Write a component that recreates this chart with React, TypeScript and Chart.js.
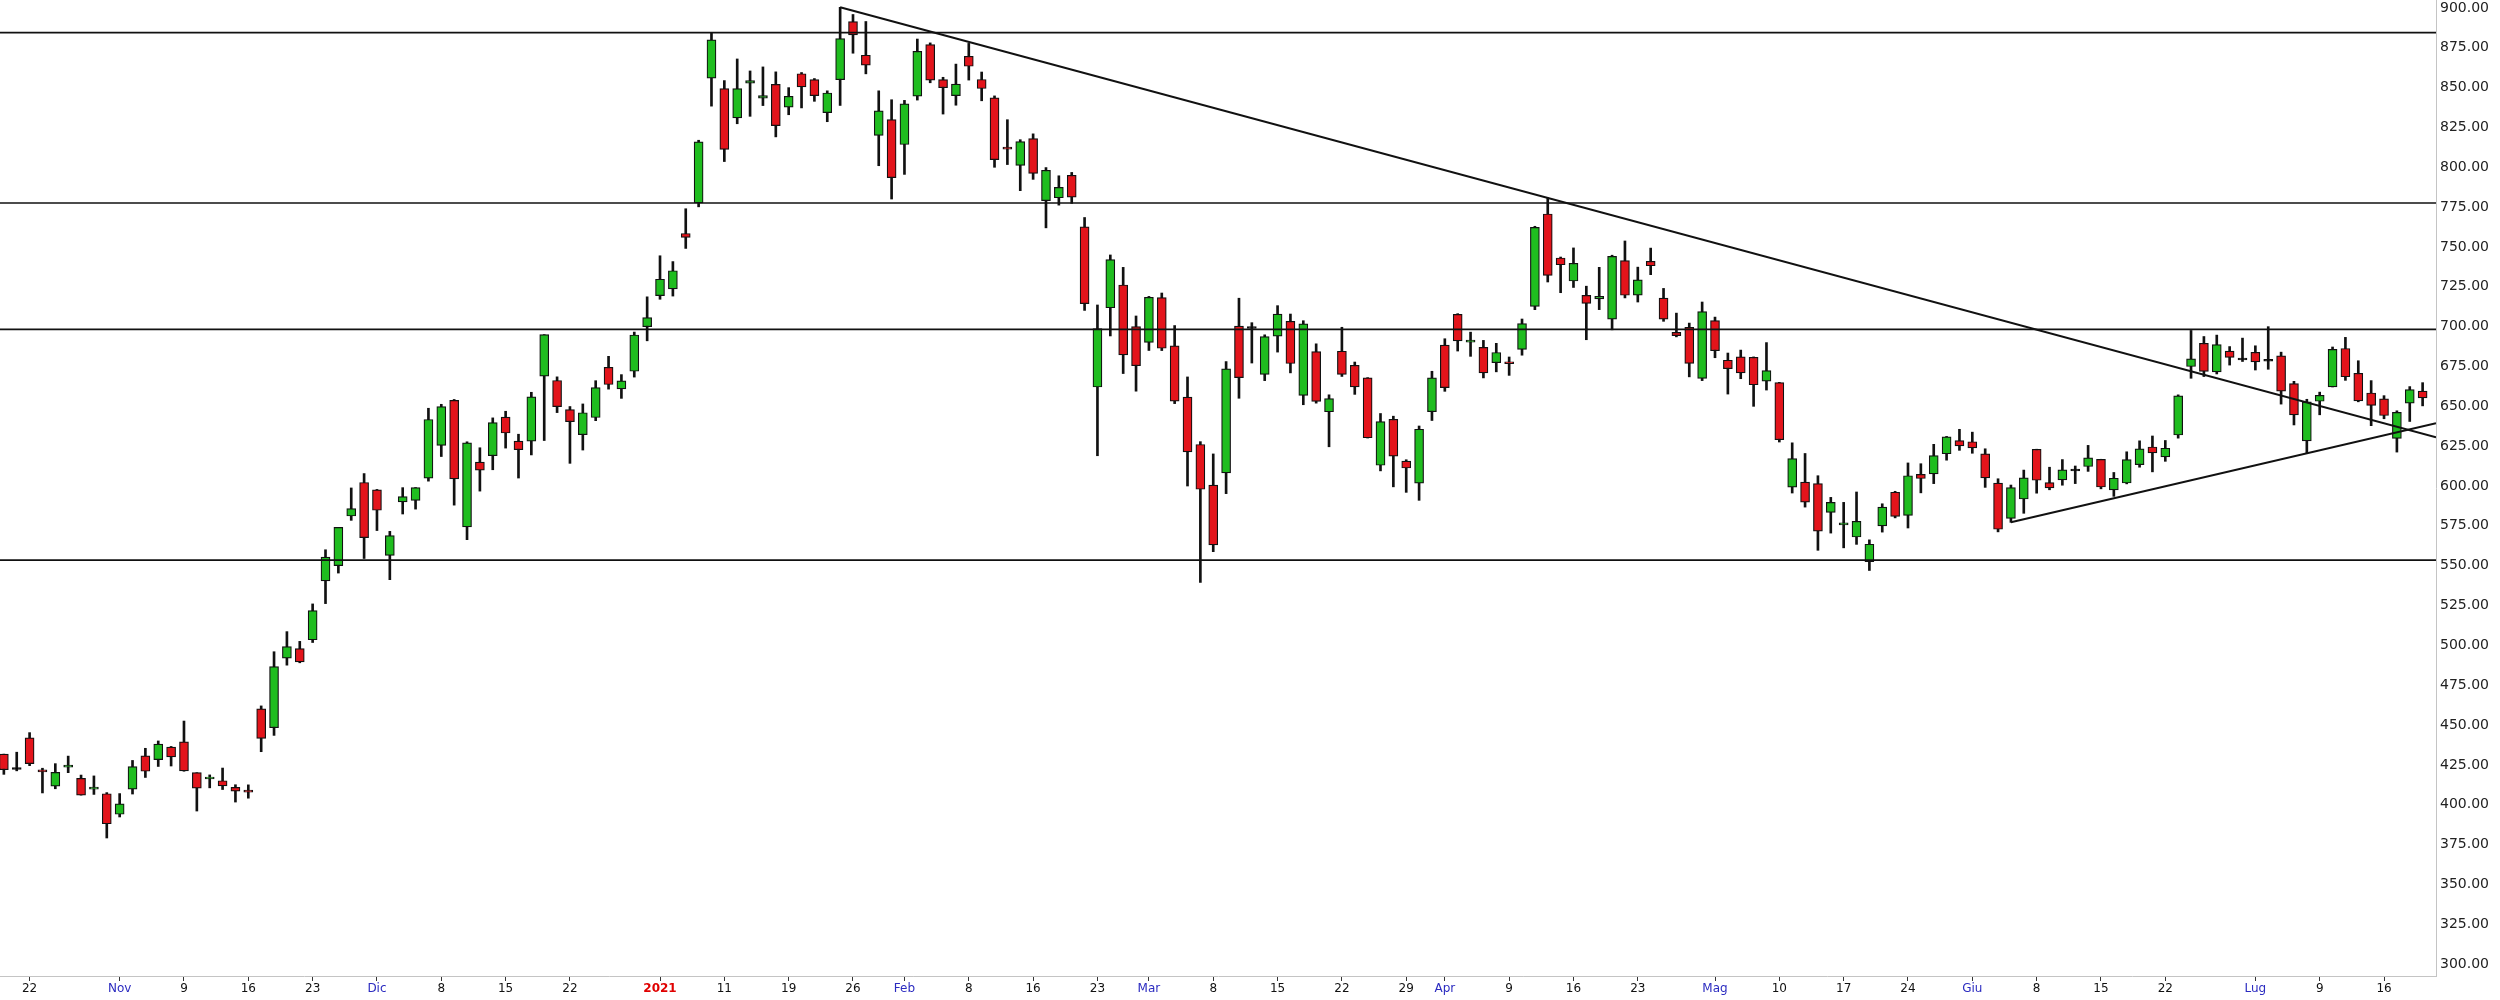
import React, { useEffect, useRef } from "react";
import { Chart, registerables } from "chart.js";

Chart.register(...registerables);

// Trading days (daily candles)
const dates = [
  "2020-10-20","2020-10-21","2020-10-22","2020-10-23","2020-10-26","2020-10-27","2020-10-28","2020-10-29","2020-10-30",
  "2020-11-02","2020-11-03","2020-11-04","2020-11-05","2020-11-06","2020-11-09","2020-11-10","2020-11-11","2020-11-12","2020-11-13",
  "2020-11-16","2020-11-17","2020-11-18","2020-11-19","2020-11-20","2020-11-23","2020-11-24","2020-11-25","2020-11-27","2020-11-30",
  "2020-12-01","2020-12-02","2020-12-03","2020-12-04","2020-12-07","2020-12-08","2020-12-09","2020-12-10","2020-12-11",
  "2020-12-14","2020-12-15","2020-12-16","2020-12-17","2020-12-18","2020-12-21","2020-12-22","2020-12-23","2020-12-24",
  "2020-12-28","2020-12-29","2020-12-30","2020-12-31",
  "2021-01-04","2021-01-05","2021-01-06","2021-01-07","2021-01-08","2021-01-11","2021-01-12","2021-01-13","2021-01-14","2021-01-15",
  "2021-01-19","2021-01-20","2021-01-21","2021-01-22","2021-01-25","2021-01-26","2021-01-27","2021-01-28","2021-01-29",
  "2021-02-01","2021-02-02","2021-02-03","2021-02-04","2021-02-05","2021-02-08","2021-02-09","2021-02-10","2021-02-11","2021-02-12",
  "2021-02-16","2021-02-17","2021-02-18","2021-02-19","2021-02-22","2021-02-23","2021-02-24","2021-02-25","2021-02-26",
  "2021-03-01","2021-03-02","2021-03-03","2021-03-04","2021-03-05","2021-03-08","2021-03-09","2021-03-10","2021-03-11","2021-03-12",
  "2021-03-15","2021-03-16","2021-03-17","2021-03-18","2021-03-19","2021-03-22","2021-03-23","2021-03-24","2021-03-25","2021-03-26",
  "2021-03-29","2021-03-30","2021-03-31","2021-04-01","2021-04-05","2021-04-06","2021-04-07","2021-04-08","2021-04-09",
  "2021-04-12","2021-04-13","2021-04-14","2021-04-15","2021-04-16","2021-04-19","2021-04-20","2021-04-21","2021-04-22","2021-04-23",
  "2021-04-26","2021-04-27","2021-04-28","2021-04-29","2021-04-30",
  "2021-05-03","2021-05-04","2021-05-05","2021-05-06","2021-05-07","2021-05-10","2021-05-11","2021-05-12","2021-05-13","2021-05-14",
  "2021-05-17","2021-05-18","2021-05-19","2021-05-20","2021-05-21","2021-05-24","2021-05-25","2021-05-26","2021-05-27","2021-05-28",
  "2021-06-01","2021-06-02","2021-06-03","2021-06-04","2021-06-07","2021-06-08","2021-06-09","2021-06-10","2021-06-11",
  "2021-06-14","2021-06-15","2021-06-16","2021-06-17","2021-06-18","2021-06-21","2021-06-22","2021-06-23","2021-06-24","2021-06-25",
  "2021-06-28","2021-06-29","2021-06-30","2021-07-01","2021-07-02","2021-07-06","2021-07-07","2021-07-08","2021-07-09",
  "2021-07-12","2021-07-13","2021-07-14","2021-07-15","2021-07-16","2021-07-19","2021-07-20","2021-07-21",
];

const openP = [
  431.75,422.70,441.92,421.84,411.63,423.76,416.48,409.96,406.90,
  394.00,409.73,430.62,428.30,436.10,439.50,420.09,416.45,415.05,410.85,
  408.93,460.17,448.35,492.00,497.99,503.50,540.40,550.06,581.16,602.21,
  597.59,556.44,590.02,591.01,604.92,625.51,653.69,574.37,615.01,
  619.00,643.28,628.23,628.19,668.90,666.24,648.00,632.20,642.99,
  674.51,661.00,672.00,699.99,
  719.46,723.66,758.49,777.63,856.00,849.40,831.00,852.76,843.39,852.00,
  837.80,858.74,855.00,834.31,855.00,891.38,870.35,820.00,830.00,
  814.29,844.68,877.02,855.00,845.00,869.67,855.12,843.64,812.44,801.26,
  818.00,779.09,780.90,795.00,762.64,662.13,711.85,726.15,700.00,
  690.11,718.28,687.99,655.80,626.06,600.55,608.18,700.30,699.40,670.00,
  694.09,703.35,656.87,684.29,646.60,684.59,675.77,667.91,613.00,641.87,
  615.64,601.75,646.62,688.37,707.71,690.30,687.00,677.38,677.77,
  685.70,712.70,770.70,743.10,728.65,719.60,717.42,704.77,741.50,719.80,
  741.00,717.96,696.41,699.51,667.59,
  703.80,678.94,681.06,680.76,665.80,664.90,599.24,602.49,601.54,583.41,
  575.55,568.00,552.55,575.00,596.11,581.60,607.31,607.56,620.24,628.50,
  627.80,620.13,601.80,579.71,591.83,623.01,602.17,603.88,610.23,
  612.23,616.69,597.54,601.89,613.37,624.48,618.25,632.00,674.99,689.58,
  671.64,684.65,679.77,683.92,678.98,681.71,664.27,628.37,653.18,
  662.20,686.32,670.75,658.39,654.68,629.89,651.99,659.61,
];

const highP = [
  431.75,432.95,445.23,422.89,425.76,430.50,418.60,418.06,407.59,
  406.98,427.77,435.40,440.00,436.57,452.50,420.09,418.70,423.00,412.53,
  412.45,462.00,496.00,508.61,502.50,526.00,559.99,574.00,598.78,607.80,
  597.85,571.54,598.97,599.04,648.79,651.28,654.32,627.75,624.00,
  642.75,646.90,632.50,658.82,695.00,668.50,649.88,651.50,666.09,
  681.40,669.90,696.60,718.72,
  744.49,740.84,774.00,816.99,884.49,854.43,868.00,860.47,863.00,859.90,
  850.00,859.50,855.72,848.00,900.40,895.90,891.50,848.00,842.41,
  842.00,880.50,878.08,856.50,864.77,877.77,859.80,844.82,829.88,817.33,
  821.00,799.84,794.69,796.79,768.50,713.61,745.00,737.21,706.70,
  719.00,721.11,700.70,668.45,627.84,620.13,678.09,717.85,702.50,694.88,
  713.18,707.92,703.73,689.23,657.23,699.62,677.80,668.02,645.50,643.82,
  616.48,637.66,672.00,692.42,708.16,696.55,691.38,689.55,680.97,
  704.80,763.00,780.79,743.69,749.41,725.40,737.25,744.84,753.77,737.36,
  749.30,724.00,708.50,702.25,715.47,
  706.00,683.45,685.30,681.02,690.00,665.05,627.10,620.41,606.46,592.87,
  589.73,596.25,566.21,588.85,596.68,614.48,613.99,626.17,631.13,635.59,
  633.80,623.36,604.55,600.61,610.00,623.09,611.79,616.59,612.56,
  625.49,616.79,608.50,621.47,628.35,631.39,628.57,657.20,697.62,693.81,
  694.70,687.51,692.81,687.99,700.00,684.00,665.70,654.43,658.91,
  687.24,693.28,678.61,666.14,656.70,647.20,662.39,664.86,
];

const lowP = [
  419.05,421.25,424.51,407.38,410.00,420.10,406.00,406.46,379.11,
  392.30,406.69,417.10,424.00,424.28,421.00,396.03,410.58,409.52,401.66,
  404.09,433.26,443.50,487.57,489.06,501.79,526.20,545.37,578.45,554.51,
  572.05,541.21,582.43,585.50,603.05,618.50,588.00,566.34,596.80,
  610.20,623.80,605.00,619.50,628.54,646.07,614.23,622.57,641.00,
  660.80,655.00,668.36,691.12,
  717.19,719.20,749.10,775.20,838.39,803.62,827.34,832.00,838.75,819.10,
  833.00,837.28,841.42,828.62,838.82,871.60,858.66,801.00,780.10,
  795.56,842.20,853.06,833.42,838.97,854.75,841.75,800.02,801.73,785.33,
  792.44,762.01,776.27,777.37,710.20,619.00,694.17,670.58,659.51,
  685.05,685.00,651.71,600.00,539.49,558.79,595.21,655.06,677.18,666.14,
  684.04,671.00,651.01,652.00,624.62,668.75,657.51,630.11,609.50,599.48,
  596.02,591.01,641.11,659.42,684.70,681.37,667.84,671.65,669.43,
  682.09,710.66,728.03,721.31,724.60,691.80,710.69,698.00,718.04,715.46,
  732.61,703.35,693.60,668.50,666.14,
  680.50,657.70,667.34,650.00,660.22,627.61,595.60,586.77,559.65,570.46,
  561.20,563.38,546.98,571.07,580.00,573.65,595.71,601.50,616.21,622.38,
  620.55,599.14,571.22,577.20,582.88,595.50,597.63,600.50,601.52,
  609.18,598.23,593.50,601.34,611.80,608.88,615.50,630.04,667.61,668.70,
  670.32,675.89,678.14,672.80,673.26,651.40,638.32,620.46,644.69,
  662.16,666.30,652.84,637.88,642.20,621.29,640.50,650.29,
];

const closeP = [
  421.94,422.64,425.79,420.63,420.28,424.68,406.02,410.83,388.04,
  400.51,423.90,420.98,438.09,429.95,421.26,410.36,417.13,411.76,408.50,
  408.09,441.61,486.64,499.27,489.61,521.85,555.38,574.00,585.76,567.60,
  584.76,568.82,593.38,599.04,641.76,649.88,604.48,627.07,609.99,
  639.83,633.25,622.77,655.90,695.00,649.86,640.34,645.98,661.77,
  663.69,665.99,694.78,705.67,
  729.77,735.11,755.98,816.04,880.02,811.19,849.44,854.41,845.00,826.16,
  844.55,850.45,844.99,846.64,880.80,883.09,864.16,835.43,793.53,
  839.81,872.79,854.69,849.99,852.23,863.42,849.46,804.82,811.66,816.12,
  796.22,798.15,787.38,781.30,714.50,698.84,742.02,682.22,675.50,
  718.43,686.44,653.20,621.44,597.95,563.00,673.58,668.06,699.60,693.73,
  707.94,676.88,701.81,653.16,654.87,670.00,662.16,630.27,640.39,618.71,
  611.29,635.62,667.93,661.75,691.05,691.62,670.97,683.80,677.02,
  701.98,762.32,732.23,738.85,739.78,714.63,718.99,744.12,719.69,729.40,
  738.20,704.74,694.40,677.00,709.44,
  684.90,673.60,670.94,663.54,672.37,629.04,617.20,589.89,571.69,589.74,
  576.83,577.87,563.46,586.78,580.88,606.44,604.69,619.13,630.85,625.22,
  623.90,605.12,572.84,599.05,605.13,603.59,598.78,610.12,609.89,
  617.69,599.36,604.87,616.60,623.31,620.83,623.71,656.57,679.82,671.87,
  688.72,680.76,679.70,677.92,678.90,659.58,644.65,652.81,656.95,
  685.70,668.54,653.38,650.60,644.22,646.22,660.50,655.29,
];

// X-axis tick labels (date where the label sits, text shown)
const xTickDates = [
  "2020-10-22","2020-11-02","2020-11-09","2020-11-16","2020-11-23","2020-12-01","2020-12-08","2020-12-15","2020-12-22",
  "2021-01-04","2021-01-11","2021-01-19","2021-01-26","2021-02-01","2021-02-08","2021-02-16","2021-02-23",
  "2021-03-01","2021-03-08","2021-03-15","2021-03-22","2021-03-29","2021-04-01","2021-04-09","2021-04-16","2021-04-23",
  "2021-05-03","2021-05-10","2021-05-17","2021-05-24","2021-06-01","2021-06-08","2021-06-15","2021-06-22",
  "2021-07-01","2021-07-09","2021-07-16",
];
const xTickLabels = [
  "22","Nov","9","16","23","Dic","8","15","22",
  "2021","11","19","26","Feb","8","16","23",
  "Mar","8","15","22","29","Apr","9","16","23",
  "Mag","10","17","24","Giu","8","15","22",
  "Lug","9","16",
];
const monthLabels = ["Nov","Dic","Feb","Mar","Apr","Mag","Giu","Lug"];
const yearLabels = ["2021"];

// Y-axis tick labels
const yTicks = [300,325,350,375,400,425,450,475,500,525,550,575,600,625,650,675,700,725,750,775,800,825,850,875,900];

// Horizontal support / resistance levels
const hLevels = [884.5, 777.6, 698.3, 553.5];

// Trend lines: two anchor points each (date, price), extended to the right edge
const trendDown: [string, number][] = [["2021-01-25", 900.4], ["2021-04-14", 780.79]];
const trendUp: [string, number][] = [["2021-06-04", 577.2], ["2021-07-08", 620.46]];

const Y_MIN = 292.5;
const Y_MAX = 905.0;
const X_MIN = -0.3;
const X_MAX = 189.04;

const GREEN = "#1fbd1f";
const RED = "#e3141b";

export default function App() {
  const ref = useRef<HTMLCanvasElement | null>(null);

  useEffect(() => {
    document.body.style.margin = "0";
    const canvas = ref.current;
    if (!canvas) return;

    const idxOf = (d: string) => dates.indexOf(d);
    const xs = dates.map((_, i) => i);

    const bodies = xs.map((i) => {
      let lo = Math.min(openP[i], closeP[i]);
      let hi = Math.max(openP[i], closeP[i]);
      if (hi - lo < 1.2) {
        const m = (hi + lo) / 2;
        lo = m - 0.6;
        hi = m + 0.6;
      }
      return { x: i, y: [lo, hi] };
    });
    const bodyColors = xs.map((i) =>
      Math.abs(closeP[i] - openP[i]) < 0.5 ? "#000000" : closeP[i] > openP[i] ? GREEN : RED
    );
    const wicks = xs.map((i) => ({ x: i, y: [lowP[i], highP[i]] }));

    const extend = (t: [string, number][]) => {
      const x1 = idxOf(t[0][0]);
      const x2 = idxOf(t[1][0]);
      const s = (t[1][1] - t[0][1]) / (x2 - x1);
      return [
        { x: x1, y: t[0][1] },
        { x: X_MAX, y: t[0][1] + s * (X_MAX - x1) },
      ];
    };

    const tickIdx = xTickDates.map(idxOf);

    const lineStyle = {
      type: "line" as const,
      borderColor: "#111111",
      pointRadius: 0,
      fill: false,
      tension: 0,
      order: 0,
    };

    const chart = new Chart(canvas, {
      type: "bar",
      data: {
        datasets: [
          ...hLevels.map((v) => ({
            ...lineStyle,
            borderWidth: 1.6,
            data: [
              { x: X_MIN, y: v },
              { x: X_MAX, y: v },
            ],
          })),
          { ...lineStyle, borderWidth: 2, data: extend(trendDown) },
          { ...lineStyle, borderWidth: 2, data: extend(trendUp) },
          {
            type: "bar",
            data: bodies as any,
            backgroundColor: bodyColors,
            borderColor: "#111111",
            borderWidth: 1.2,
            borderSkipped: false,
            barThickness: 9,
            grouped: false,
            order: 2,
          },
          {
            type: "bar",
            data: wicks as any,
            backgroundColor: "#111111",
            borderWidth: 0,
            barThickness: 2,
            grouped: false,
            order: 3,
          },
        ] as any,
      },
      options: {
        responsive: false,
        animation: false,
        devicePixelRatio: 1,
        events: [],
        layout: { padding: 0 },
        plugins: {
          legend: { display: false },
          tooltip: { enabled: false },
          title: { display: false },
        },
        scales: {
          x: {
            type: "linear",
            min: X_MIN,
            max: X_MAX,
            offset: false,
            afterBuildTicks: (s: any) => {
              s.ticks = tickIdx.map((v) => ({ value: v }));
            },
            afterFit: (s: any) => {
              s.height = 24;
              s.paddingLeft = 0;
              s.paddingRight = 0;
            },
            ticks: {
              autoSkip: false,
              maxRotation: 0,
              minRotation: 0,
              padding: 1,
              callback: (v: any) => xTickLabels[tickIdx.indexOf(Number(v))] ?? "",
              color: (ctx: any) => {
                const lab = xTickLabels[tickIdx.indexOf(ctx.tick?.value)];
                if (yearLabels.includes(lab)) return "#e00000";
                if (monthLabels.includes(lab)) return "#2b2bc0";
                return "#111111";
              },
              font: (ctx: any) => {
                const lab = xTickLabels[tickIdx.indexOf(ctx.tick?.value)];
                return {
                  family: "'DejaVu Sans', Verdana, sans-serif",
                  size: 12,
                  weight: yearLabels.includes(lab) ? "bold" : "normal",
                };
              },
            },
            grid: {
              offset: false,
              drawOnChartArea: false,
              drawTicks: true,
              tickLength: 5,
              color: "#333333",
              lineWidth: 1,
            },
            border: { display: true, color: "#c4c4c4", width: 1 },
          },
          y: {
            type: "linear",
            position: "right",
            min: Y_MIN,
            max: Y_MAX,
            afterBuildTicks: (s: any) => {
              s.ticks = yTicks.map((v) => ({ value: v }));
            },
            afterFit: (s: any) => {
              s.width = 64;
              s.paddingTop = 0;
              s.paddingBottom = 0;
            },
            ticks: {
              padding: 4,
              color: "#222222",
              font: { family: "'DejaVu Sans', Verdana, sans-serif", size: 14 },
              callback: (v: any) => Number(v).toFixed(2),
            },
            grid: { drawOnChartArea: false, drawTicks: false },
            border: { display: true, color: "#c4c4c4", width: 1 },
          },
        },
      } as any,
    });

    return () => chart.destroy();
  }, []);

  return (
    <div style={{ width: 2500, height: 1000, background: "#ffffff" }}>
      <canvas ref={ref} width={2500} height={1000} style={{ display: "block" }} />
    </div>
  );
}
